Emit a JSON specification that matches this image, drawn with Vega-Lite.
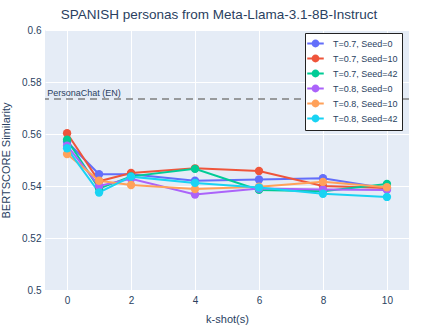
{
  "$schema": "https://vega.github.io/schema/vega-lite/v6.json",
  "width": 364,
  "height": 260,
  "autosize": {"type": "none"},
  "padding": {"left": 45, "top": 30, "right": 30, "bottom": 39},
  "background": "white",
  "title": {"text": "SPANISH personas from Meta-Llama-3.1-8B-Instruct", "font": "Liberation Sans", "fontSize": 13.5, "fontWeight": "normal", "color": "#2a3f5f", "anchor": "middle", "dx": -8, "offset": 4},
  "config": {
    "view": {"fill": "#E5ECF6", "stroke": null},
    "font": "Liberation Sans",
    "axis": {"domain": false, "ticks": false, "gridColor": "white", "gridWidth": 1, "labelColor": "#2a3f5f", "labelFont": "Liberation Sans", "labelFontSize": 10, "titleColor": "#2a3f5f", "titleFont": "Liberation Sans", "titleFontSize": 11, "titleFontWeight": "normal"}
  },
  "datasets": {
    "series": [
      {"series": "T=0.7, Seed=0", "k": 0, "score": 0.557},
      {"series": "T=0.7, Seed=0", "k": 1, "score": 0.5445},
      {"series": "T=0.7, Seed=0", "k": 2, "score": 0.5445},
      {"series": "T=0.7, Seed=0", "k": 4, "score": 0.542},
      {"series": "T=0.7, Seed=0", "k": 6, "score": 0.5425},
      {"series": "T=0.7, Seed=0", "k": 8, "score": 0.543},
      {"series": "T=0.7, Seed=0", "k": 10, "score": 0.539},
      {"series": "T=0.7, Seed=10", "k": 0, "score": 0.5603},
      {"series": "T=0.7, Seed=10", "k": 1, "score": 0.5418},
      {"series": "T=0.7, Seed=10", "k": 2, "score": 0.545},
      {"series": "T=0.7, Seed=10", "k": 4, "score": 0.5468},
      {"series": "T=0.7, Seed=10", "k": 6, "score": 0.5458},
      {"series": "T=0.7, Seed=10", "k": 8, "score": 0.54},
      {"series": "T=0.7, Seed=10", "k": 10, "score": 0.5392},
      {"series": "T=0.7, Seed=42", "k": 0, "score": 0.5578},
      {"series": "T=0.7, Seed=42", "k": 1, "score": 0.539},
      {"series": "T=0.7, Seed=42", "k": 2, "score": 0.5437},
      {"series": "T=0.7, Seed=42", "k": 4, "score": 0.5466},
      {"series": "T=0.7, Seed=42", "k": 6, "score": 0.5385},
      {"series": "T=0.7, Seed=42", "k": 8, "score": 0.538},
      {"series": "T=0.7, Seed=42", "k": 10, "score": 0.5408},
      {"series": "T=0.8, Seed=0", "k": 0, "score": 0.5555},
      {"series": "T=0.8, Seed=0", "k": 1, "score": 0.54},
      {"series": "T=0.8, Seed=0", "k": 2, "score": 0.5428},
      {"series": "T=0.8, Seed=0", "k": 4, "score": 0.5367},
      {"series": "T=0.8, Seed=0", "k": 6, "score": 0.539},
      {"series": "T=0.8, Seed=0", "k": 8, "score": 0.5387},
      {"series": "T=0.8, Seed=0", "k": 10, "score": 0.5385},
      {"series": "T=0.8, Seed=10", "k": 0, "score": 0.5523},
      {"series": "T=0.8, Seed=10", "k": 1, "score": 0.542},
      {"series": "T=0.8, Seed=10", "k": 2, "score": 0.5404},
      {"series": "T=0.8, Seed=10", "k": 4, "score": 0.5388},
      {"series": "T=0.8, Seed=10", "k": 6, "score": 0.5397},
      {"series": "T=0.8, Seed=10", "k": 8, "score": 0.5416},
      {"series": "T=0.8, Seed=10", "k": 10, "score": 0.5395},
      {"series": "T=0.8, Seed=42", "k": 0, "score": 0.5545},
      {"series": "T=0.8, Seed=42", "k": 1, "score": 0.5375},
      {"series": "T=0.8, Seed=42", "k": 2, "score": 0.5436},
      {"series": "T=0.8, Seed=42", "k": 4, "score": 0.5412},
      {"series": "T=0.8, Seed=42", "k": 6, "score": 0.5394},
      {"series": "T=0.8, Seed=42", "k": 8, "score": 0.537},
      {"series": "T=0.8, Seed=42", "k": 10, "score": 0.5358}
    ],
    "baseline": [{"label": "PersonaChat (EN)", "score": 0.5735, "k": -0.62}]
  },
  "layer": [
    {
      "data": {"name": "baseline"},
      "mark": {"type": "rule", "color": "#7f7f7f", "strokeWidth": 1.5, "strokeDash": [7, 5]},
      "encoding": {"y": {"field": "score", "type": "quantitative"}}
    },
    {
      "data": {"name": "baseline"},
      "mark": {"type": "text", "align": "left", "baseline": "bottom", "dy": -1, "fontSize": 9, "color": "#2a3f5f", "font": "Liberation Sans"},
      "encoding": {
        "x": {"field": "k", "type": "quantitative"},
        "y": {"field": "score", "type": "quantitative"},
        "text": {"field": "label"}
      }
    },
    {
      "data": {"name": "series"},
      "mark": {"type": "line", "strokeWidth": 2, "point": {"filled": true, "size": 70, "opacity": 1}},
      "encoding": {
        "x": {"field": "k", "type": "quantitative", "scale": {"domain": [-0.69, 10.69], "nice": false, "zero": false}, "axis": {"values": [0, 2, 4, 6, 8, 10], "title": "k-shot(s)", "labelPadding": 5, "titlePadding": 8}},
        "y": {"field": "score", "type": "quantitative", "scale": {"domain": [0.5, 0.6], "nice": false, "zero": false}, "axis": {"values": [0.5, 0.52, 0.54, 0.56, 0.58, 0.6], "format": ".2~f", "title": "BERTSCORE Similarity", "labelPadding": 4, "titlePadding": 10}},
        "color": {
          "field": "series", "type": "nominal",
          "scale": {"domain": ["T=0.7, Seed=0", "T=0.7, Seed=10", "T=0.7, Seed=42", "T=0.8, Seed=0", "T=0.8, Seed=10", "T=0.8, Seed=42"], "range": ["#636efa", "#EF553B", "#00cc96", "#ab63fa", "#FFA15A", "#19d3f3"]},
          "legend": {
            "title": null, "orient": "none", "legendX": 260, "legendY": 3,
            "strokeColor": "#222", "fillColor": "white", "padding": 4,
            "labelFontSize": 9, "labelColor": "#2a3f5f", "labelFont": "Liberation Sans",
            "symbolType": "M-1.5,0L1.5,0M0.55,0A0.55,0.55,0,1,1,-0.55,0A0.55,0.55,0,1,1,0.55,0Z",
            "symbolSize": 121, "symbolStrokeWidth": 1.8, "rowPadding": 0, "labelOffset": 11,
            "encode": {"symbols": {"update": {"fill": {"scale": "color", "field": "value"}, "stroke": {"scale": "color", "field": "value"}, "opacity": {"value": 1}}}}
          }
        }
      }
    }
  ]
}
